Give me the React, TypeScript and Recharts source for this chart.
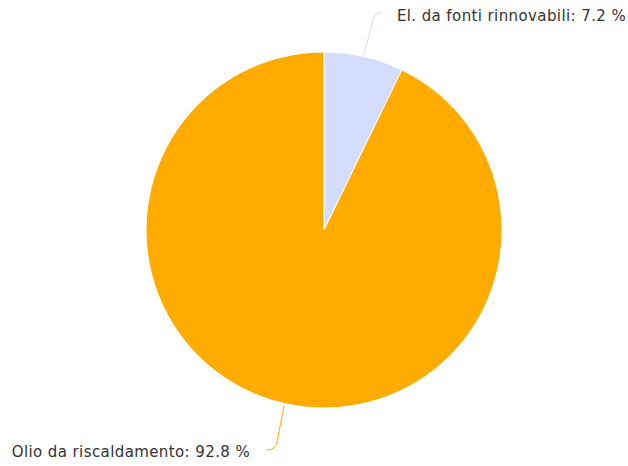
import { Cell, Pie, PieChart } from 'recharts';

const categories = ['El. da fonti rinnovabili', 'Olio da riscaldamento'];
const shares = [7.2, 92.8];
const colors = ['#d4ddff', '#ffab00'];

const data = categories.map((name, i) => ({ name, value: shares[i] }));

const RADIAN = Math.PI / 180;

const renderLabel = (props: any) => {
  const { cx, cy, midAngle, outerRadius, index, name, value } = props;
  const sin = Math.sin(-midAngle * RADIAN);
  const cos = Math.cos(-midAngle * RADIAN);
  const x0 = cx + outerRadius * cos;
  const y0 = cy + outerRadius * sin;
  const top = y0 < cy;
  const right = x0 > cx;
  // label text centre
  const ly = top ? cy - outerRadius - 36 : cy + outerRadius + 44;
  const ey = top ? ly - 4 : ly - 2;
  const ex = x0 + (right ? 18 : -17);
  const x1 = ex + (right ? -9 : 10);
  const y1 = top ? ey + 9 : ey - 8;
  const path = `M${x0},${y0 + (top ? -2 : 2)} L${x1},${y1} Q${x1 + (right ? 1 : -1.5)},${ey} ${ex},${ey}`;
  return (
    <g key={`lbl-${index}`}>
      <path d={path} stroke={colors[index]} strokeWidth={1} fill="none" />
      <text
        x={right ? ex + 15 : ex - 17}
        y={ly}
        textAnchor={right ? 'start' : 'end'}
        dominantBaseline="central"
        fill="#333333"
        fontSize={15}
        letterSpacing={0.4}
        fontFamily="DejaVu Sans"
      >
        {`${name}: ${value} %`}
      </text>
    </g>
  );
};

export default function App() {
  return (
    <div style={{ width: 628, height: 466, background: '#ffffff' }}>
      <style>{`body{margin:0}`}</style>
      <PieChart width={628} height={466} margin={{ top: 0, right: 0, bottom: 0, left: 0 }}>
        <Pie
          data={data}
          dataKey="value"
          nameKey="name"
          cx={324}
          cy={230}
          outerRadius={178}
          startAngle={90}
          endAngle={-270}
          stroke="#ffffff"
          strokeWidth={1}
          labelLine={false}
          label={renderLabel}
          isAnimationActive={false}
        >
          {data.map((d, i) => (
            <Cell key={d.name} fill={colors[i]} />
          ))}
        </Pie>
      </PieChart>
    </div>
  );
}
